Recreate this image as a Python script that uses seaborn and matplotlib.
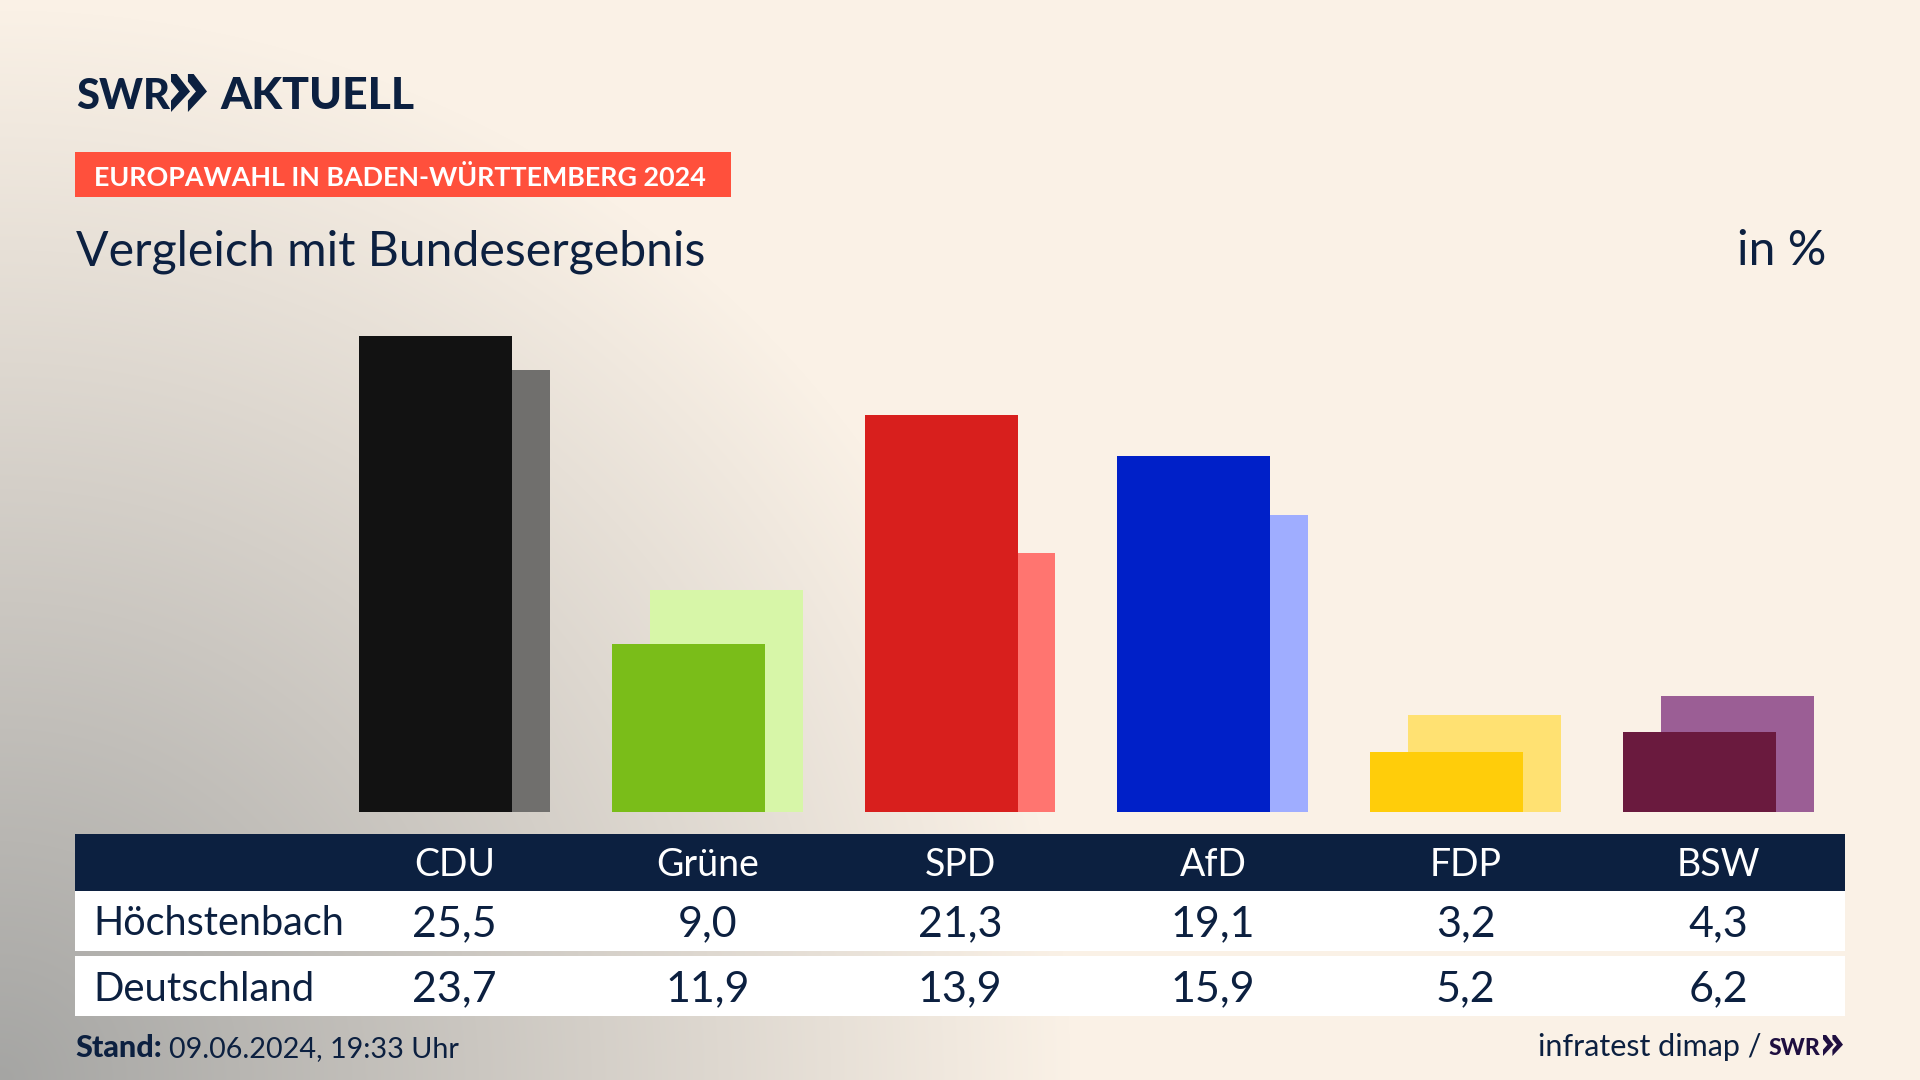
import numpy as np
import pandas as pd
import matplotlib.pyplot as plt
import matplotlib.patches as mpatches
import seaborn as sns

sns.set_theme(style = 'white')
plt.rcParams['font.family'] = ['Lato', 'DejaVu Sans']

NAVY = '#0C2040'
W, H = 1920, 1080

df = pd.DataFrame({
    'Partei': ['CDU', 'Grüne', 'SPD', 'AfD', 'FDP', 'BSW'],
    'Höchstenbach': [25.5, 9.0, 21.3, 19.1, 3.2, 4.3],
    'Deutschland': [23.7, 11.9, 13.9, 15.9, 5.2, 6.2],
    'dunkel': ['#121212', '#7ABD19', '#D81F1D', '#0020C8', '#FFCD0A', '#6A1A3E'],
    'hell': ['#706F6D', '#D7F6A8', '#FF7570', '#9FADFF', '#FFE172', '#9B5E95'],
})
df['pos'] = np.arange(len(df))
df['pos_hinten'] = df['pos'] + 0.15

fig = plt.figure(figsize = (W / 100, H / 100), dpi = 100)

# background, radial grey from the lower left corner
bg = fig.add_axes([0, 0, 1, 1], zorder = 0)
yy, xx = np.mgrid[0:H, 0:W]
t = np.clip(1 - np.hypot(xx, H - yy) / 1070, 0, 1)[..., None]
cream = np.array([250, 241, 230]) / 255
grey = np.array([165, 165, 163]) / 255
bg.imshow(cream + (grey - cream) * t, aspect = 'auto', extent = (0, W, H, 0))
bg.set_xlim(0, W)
bg.set_ylim(H, 0)
bg.axis('off')

# bars
scale = 18.66
base = 812
top = 300
ax = fig.add_axes([0, 1 - base / H, 1, (base - top) / H], zorder = 1)
sns.barplot(data = df, x = 'pos_hinten', y = 'Deutschland', hue = 'Partei', palette = df['hell'].tolist(),
            native_scale = True, dodge = False, width = 0.605, saturation = 1, linewidth = 0, legend = False, ax = ax)
sns.barplot(data = df, x = 'pos', y = 'Höchstenbach', hue = 'Partei', palette = df['dunkel'].tolist(),
            native_scale = True, dodge = False, width = 0.605, saturation = 1, linewidth = 0, legend = False, ax = ax)
ax.set_xlim((0 - 435.5) / 252.8, (W - 435.5) / 252.8)
ax.set_ylim(0, (base - top) / scale)
ax.axis('off')

# everything else in pixel coordinates
ov = fig.add_axes([0, 0, 1, 1], zorder = 2)
ov.set_xlim(0, W)
ov.set_ylim(H, 0)
ov.axis('off')

def box(x0, y0, x1, y1, color):
    ov.add_patch(mpatches.Rectangle((x0, y0), x1 - x0, y1 - y0, color = color, linewidth = 0))

def chevrons(x, y, w, h, color):
    cw = w * 0.53
    shape = [(0, 0), (0.3, 0), (1, 0.46), (0, 1), (0, 0.7), (0.42, 0.46), (0, 0.2)]
    for dx in (0, w - cw):
        ov.add_patch(mpatches.Polygon([(x + dx + a * cw, y + b * h) for a, b in shape], color = color, linewidth = 0))

# logo
ov.text(76, 109, 'SWR', fontsize = 30, fontweight = 'black', color = NAVY, va = 'baseline')
chevrons(171, 74, 36, 38, NAVY)
ov.text(220, 109, 'AKTUELL', fontsize = 32, fontweight = 'black', color = NAVY, va = 'baseline')

# heading
box(75, 152, 731, 197, '#FF503C')
ov.text(94, 175, 'EUROPAWAHL IN BADEN-WÜRTTEMBERG 2024', fontsize = 19.4, fontweight = 'bold', color = 'white', va = 'center_baseline')
ov.text(76, 265, 'Vergleich mit Bundesergebnis', fontsize = 34.7, color = NAVY, va = 'baseline')
ov.text(1826, 265, 'in %', fontsize = 34.7, color = NAVY, ha = 'right', va = 'baseline')

# table
box(75, 834, 1845, 891, NAVY)
box(75, 891, 1845, 951, 'white')
box(75, 956, 1845, 1016, 'white')
ov.text(93, 920, 'Höchstenbach', fontsize = 28.5, color = NAVY, va = 'center_baseline')
ov.text(93, 986, 'Deutschland', fontsize = 28.8, color = NAVY, va = 'center_baseline')
for row in df.itertuples():
    cx = 454.5 + 252.8 * row.pos
    ov.text(cx, 862, row.Partei, fontsize = 27, color = 'white', ha = 'center', va = 'center_baseline')
    ov.text(cx, 921, f'{row.Höchstenbach:.1f}'.replace('.', ','), fontsize = 31, color = NAVY, ha = 'center', va = 'center_baseline')
    ov.text(cx, 986, f'{row.Deutschland:.1f}'.replace('.', ','), fontsize = 31, color = NAVY, ha = 'center', va = 'center_baseline')

# footer
ov.text(75, 1057, 'Stand:', fontsize = 22, fontweight = 'black', color = NAVY, va = 'baseline')
ov.text(169, 1057, '09.06.2024, 19:33 Uhr', fontsize = 20.7, color = NAVY, va = 'baseline')
ov.text(1762, 1056, 'infratest dimap /', fontsize = 22, color = NAVY, ha = 'right', va = 'baseline')
ov.text(1769, 1055, 'SWR', fontsize = 16.5, fontweight = 'black', color = '#1F0F40', va = 'baseline')
chevrons(1823, 1035, 20, 21, '#1F0F40')

fig.savefig('out.png', dpi = 100)
